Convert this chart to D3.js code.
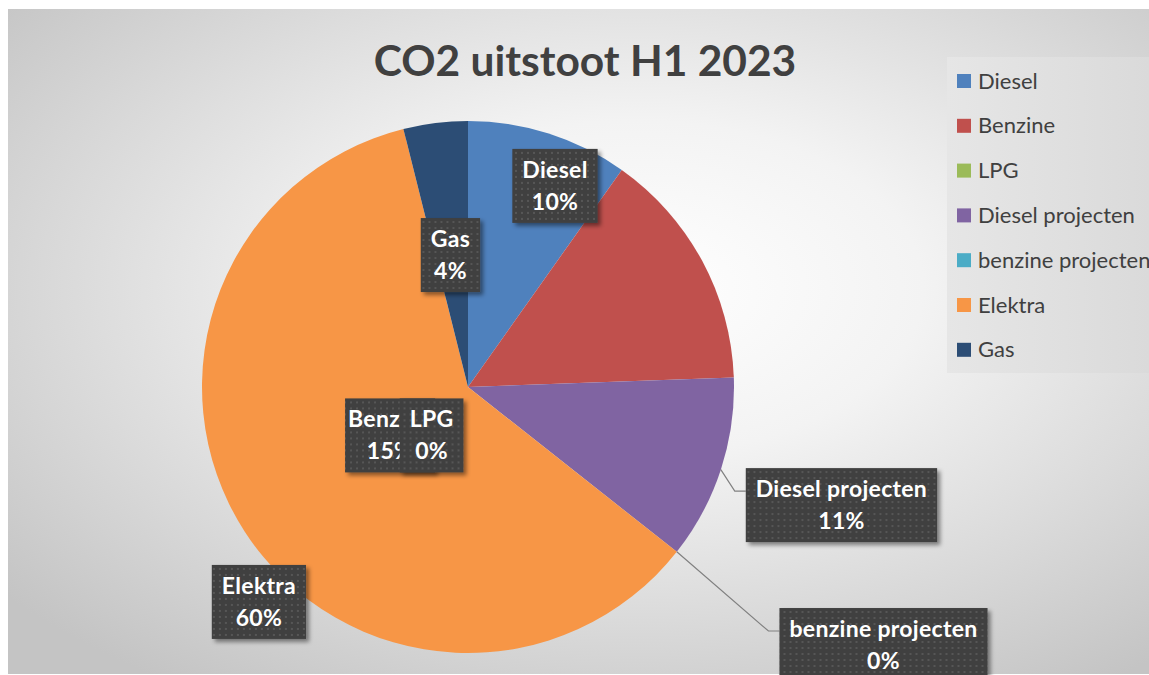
<!DOCTYPE html>
<html>
<head>
<meta charset="utf-8">
<script src="https://cdn.jsdelivr.net/npm/d3@7"></script>
<style>
  html, body { margin: 0; padding: 0; background: #fff; }
  svg { display: block; }
  text { font-family: Lato, "Open Sans", sans-serif; }
</style>
</head>
<body>
<svg id="chart" width="1149" height="675"></svg>
<script>
var categories = ["Diesel", "Benzine", "LPG", "Diesel projecten", "benzine projecten", "Elektra", "Gas"];
var values = [9.8, 14.6, 0, 11.2, 0, 60.4, 3.9];
var colors = ["#4f81bd", "#c0504d", "#9bbb59", "#8064a2", "#4bacc6", "#f79646", "#2c4d75"];
var title = "CO2 uitstoot H1 2023";

// label box centers, relative to pie center in units of radius
var labelOffsets = {
    "Diesel": [0.327, -0.756],
    "Benzine": [-0.293, 0.182],
    "LPG": [-0.137, 0.182],
    "Diesel projecten": [1.404, 0.444],
    "benzine projecten": [1.562, 0.970],
    "Elektra": [-0.786, 0.808],
    "Gas": [-0.066, -0.496]
};
var leaderLabels = ["Diesel projecten", "benzine projecten"];

var svg = d3.select("#chart");
var W = 1149, H = 675;
var cx = 468, cy = 387, radius = 266;

var defs = svg.append("defs");
var bg = defs.append("radialGradient").attr("id", "bg")
    .attr("cx", 0.55).attr("cy", 0.42).attr("r", 0.72);
bg.append("stop").attr("offset", 0).attr("stop-color", "#ffffff");
bg.append("stop").attr("offset", 0.35).attr("stop-color", "#f3f3f3");
bg.append("stop").attr("offset", 1).attr("stop-color", "#c4c4c4");

var lg = defs.append("linearGradient").attr("id", "legbg")
    .attr("x1", 0).attr("y1", 0).attr("x2", 1).attr("y2", 0);
lg.append("stop").attr("offset", 0).attr("stop-color", "#e6e6e6");
lg.append("stop").attr("offset", 1).attr("stop-color", "#dadada");

var pat = defs.append("pattern").attr("id", "dots")
    .attr("width", 6).attr("height", 6).attr("patternUnits", "userSpaceOnUse");
pat.append("rect").attr("width", 6).attr("height", 6).attr("fill", "#404040");
pat.append("rect").attr("x", 2).attr("y", 2).attr("width", 2).attr("height", 2).attr("fill", "#565656");

var shadow = defs.append("filter").attr("id", "shadow")
    .attr("x", "-20%").attr("y", "-20%").attr("width", "150%").attr("height", "150%");
shadow.append("feDropShadow").attr("dx", 3).attr("dy", 3).attr("stdDeviation", 2)
    .attr("flood-color", "#000").attr("flood-opacity", 0.45);

// chart area
svg.append("rect").attr("x", 8).attr("y", 9).attr("width", W - 8).attr("height", 665)
    .attr("fill", "url(#bg)");

svg.append("text")
    .attr("x", 585).attr("y", 76)
    .attr("text-anchor", "middle")
    .attr("font-size", 42.5).attr("font-weight", "bold")
    .attr("fill", "#404040")
    .text(title);

// pie
var data = categories.map(function (c, i) { return { name: c, value: values[i], color: colors[i] }; });
var pie = d3.pie().sort(null).value(function (d) { return d.value; });
var arc = d3.arc().innerRadius(0).outerRadius(radius);
var arcs = pie(data);

var g = svg.append("g").attr("transform", "translate(" + cx + "," + cy + ")");
g.selectAll("path.slice")
    .data(arcs.filter(function (d) { return d.value > 0; }))
    .enter().append("path")
    .attr("class", "slice")
    .attr("d", arc)
    .attr("fill", function (d) { return d.data.color; });

var lineG = g.append("g");
var labelG = g.append("g");

// data labels
var total = d3.sum(values);
var order = ["Diesel", "Gas", "Benzine", "LPG", "Diesel projecten", "benzine projecten", "Elektra"];
order.forEach(function (name) {
    var a = arcs.filter(function (d) { return d.data.name == name; })[0];
    var pct = Math.round(a.data.value / total * 100) + "%";
    var off = labelOffsets[name];
    var lx = off[0] * radius, ly = off[1] * radius;
    var box = labelG.append("g").attr("transform", "translate(" + lx + "," + ly + ")");
    var rect = box.append("rect").attr("fill", "url(#dots)").attr("filter", "url(#shadow)");
    var t1 = box.append("text").attr("text-anchor", "middle").attr("y", -8)
        .attr("font-size", 23).attr("font-weight", "bold").attr("letter-spacing", 0.3)
        .attr("fill", "#fff").text(name);
    box.append("text").attr("text-anchor", "middle").attr("y", 24)
        .attr("font-size", 23).attr("font-weight", "bold").attr("letter-spacing", 0.3)
        .attr("fill", "#fff").text(pct);
    var w = t1.node().getComputedTextLength() + 20;
    if (name == "Benzine") w = 90;
    rect.attr("x", -w / 2).attr("y", -37).attr("width", w).attr("height", 74);

    if (leaderLabels.indexOf(name) >= 0) {
        var mid = (a.startAngle + a.endAngle) / 2;
        var p0 = [radius * Math.sin(mid), -radius * Math.cos(mid)];
        var left = lx - w / 2;
        lineG.append("polyline")
            .attr("points", [p0, [left - 11, ly - 14], [left, ly - 14]]
                .map(function (p) { return p.join(","); }).join(" "))
            .attr("fill", "none").attr("stroke", "#808080").attr("stroke-width", 1.2);
    }
});

// legend
var legend = svg.append("g");
legend.append("rect").attr("x", 947).attr("y", 57).attr("width", W - 947).attr("height", 316)
    .attr("fill", "url(#legbg)");
var items = legend.selectAll("g.item")
    .data(data)
    .enter().append("g")
    .attr("class", "item")
    .attr("transform", function (d, i) { return "translate(957," + (81 + i * 44.8) + ")"; });
items.append("rect").attr("x", 0).attr("y", -7).attr("width", 14).attr("height", 14)
    .attr("fill", function (d) { return d.color; });
items.append("text").attr("x", 21).attr("y", 7.5)
    .attr("font-size", 22).attr("fill", "#404040")
    .text(function (d) { return d.name; });
</script>
</body>
</html>
